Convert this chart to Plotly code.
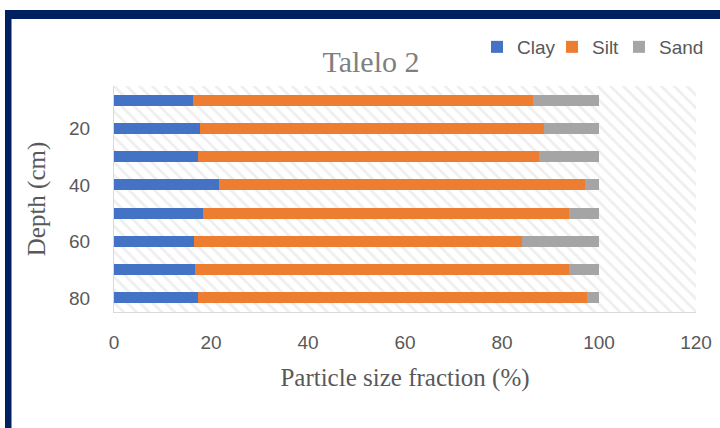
import plotly.graph_objects as go

depths = [10, 20, 30, 40, 50, 60, 70, 80]
depth_ticks = [20, 40, 60, 80]
clay = [16.2, 17.7, 17.4, 21.6, 18.4, 16.4, 16.8, 17.4]
silt = [70.2, 71.0, 70.3, 75.5, 75.4, 67.8, 77.1, 80.1]
sand = [13.6, 11.3, 12.3, 2.9, 6.2, 15.8, 6.1, 2.5]
x_ticks = [0, 20, 40, 60, 80, 100, 120]

series = [("Clay", clay, "#4472C4"), ("Silt", silt, "#ED7D31"), ("Sand", sand, "#A5A5A5")]

W, H = 720, 428
L, R, T, B = 114, 24, 86, 116
pw, ph = W - L - R, H - T - B

def px(v):
    return (v - L) / pw

def py(v):
    return (H - B - v) / ph

fig = go.Figure()

# hatched plot background on the base axes
fig.add_trace(go.Scatter(
    x=[0, 1, 1, 0, 0], y=[0, 0, 1, 1, 0], xaxis="x", yaxis="y",
    mode="none", fill="toself", fillcolor="white",
    fillpattern=dict(shape="\\", fgcolor="#dedede", bgcolor="white", size=9, solidity=0.3),
    showlegend=False, hoverinfo="skip"))

legend_names = ["legend", "legend2", "legend3"]
for (name, vals, color), lg in zip(series, legend_names):
    fig.add_trace(go.Bar(
        x=vals, y=depths, name=name, orientation="h",
        marker=dict(color=color, line=dict(width=0)),
        xaxis="x2", yaxis="y2", legend=lg))

font_sans = "Liberation Sans, Arial, sans-serif"
font_serif = "Liberation Serif, Times New Roman, serif"
gray = "#595959"

legend_font = dict(family=font_sans, size=19, color=gray)
sym_left = [493, 568, 635]

def make_legend(sx):
    return dict(orientation="h", xref="container", yref="container",
                x=(sx - 16) / W, xanchor="left", y=1 - 47 / H, yanchor="middle",
                font=legend_font, bgcolor="rgba(0,0,0,0)", itemwidth=30)

fig.update_layout(
    width=W, height=H,
    margin=dict(l=L, r=R, t=T, b=B, autoexpand=False),
    paper_bgcolor="white", plot_bgcolor="white",
    barmode="stack", bargap=0.61,
    xaxis=dict(range=[0, 1], visible=False, fixedrange=True, automargin=False),
    yaxis=dict(range=[0, 1], visible=False, fixedrange=True, automargin=False),
    xaxis2=dict(overlaying="x", range=[0, 120], tickvals=x_ticks, automargin=False,
                showgrid=False, zeroline=False, showline=True, linecolor="#d9d9d9",
                ticks="outside", ticklen=13, tickcolor="rgba(0,0,0,0)",
                tickfont=dict(family=font_sans, size=19, color=gray),
                title=dict(text="Particle size fraction (%)", standoff=16,
                           font=dict(family=font_serif, size=25, color=gray))),
    yaxis2=dict(overlaying="y", range=[85, 5], tickvals=depth_ticks, automargin=False,
                showgrid=False, zeroline=False, showline=True, linecolor="#d9d9d9",
                ticks="outside", ticklen=19, tickcolor="rgba(0,0,0,0)",
                tickfont=dict(family=font_sans, size=19, color=gray),
                title=dict(text="Depth (cm)", standoff=16,
                           font=dict(family=font_serif, size=25, color=gray))),
    title=dict(text="Talelo 2", x=371 / W, xanchor="center", y=1 - 61 / H, yanchor="middle",
               font=dict(family=font_serif, size=30, color="#7f7f7f")),
    legend=make_legend(sym_left[0]),
    legend2=make_legend(sym_left[1]),
    legend3=make_legend(sym_left[2]),
    shapes=[
        dict(type="rect", xref="paper", yref="paper", x0=px(5), x1=px(730), y0=py(19), y1=py(10),
             fillcolor="#002060", line=dict(width=0), layer="above"),
        dict(type="rect", xref="paper", yref="paper", x0=px(5), x1=px(11.5), y0=py(440), y1=py(10),
             fillcolor="#002060", line=dict(width=0), layer="above"),
    ],
)

fig.write_html("out.html", config={"displayModeBar": False},
               post_script="document.body.style.margin='0';")
